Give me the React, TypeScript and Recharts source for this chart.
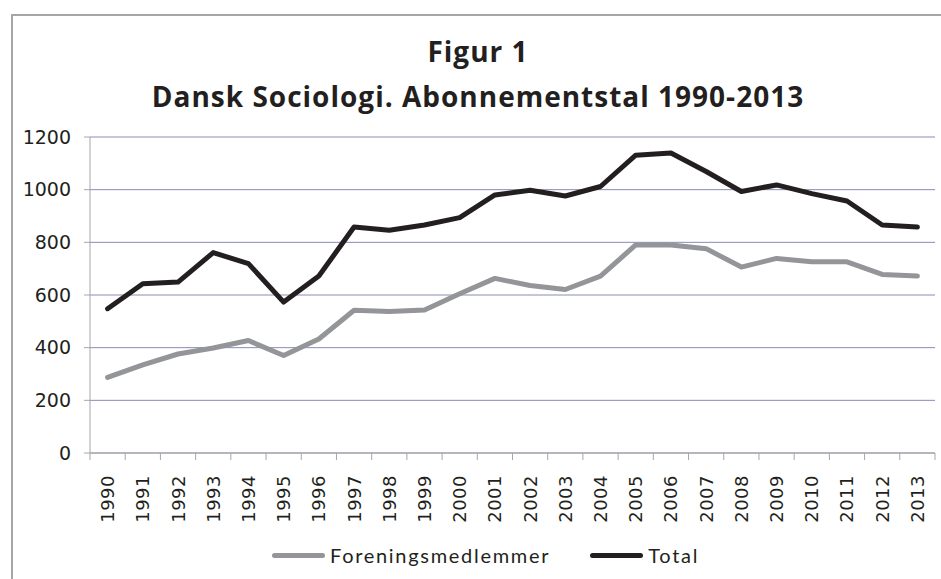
import React from "react";
import { LineChart, Line, XAxis, YAxis, CartesianGrid } from "recharts";

const years = [
  "1990", "1991", "1992", "1993", "1994", "1995", "1996", "1997",
  "1998", "1999", "2000", "2001", "2002", "2003", "2004", "2005",
  "2006", "2007", "2008", "2009", "2010", "2011", "2012", "2013",
];
const medlemmer = [
  287, 335, 376, 399, 427, 370, 433, 542, 537, 543, 605, 663,
  636, 621, 672, 790, 790, 776, 706, 739, 726, 726, 678, 672,
];
const total = [
  548, 643, 649, 761, 719, 573, 672, 858, 846, 866, 894, 980,
  998, 976, 1012, 1131, 1139, 1069, 993, 1018, 985, 957, 866, 858,
];
const yTicks = [0, 200, 400, 600, 800, 1000, 1200];
const seriesNames = ["Foreningsmedlemmer", "Total"];
const seriesColors = ["#939598", "#231f20"];

const W = 941;
const H = 579;
const PLOT_LEFT = 90;
const PLOT_RIGHT = 935;
const BAND = (PLOT_RIGHT - PLOT_LEFT) / years.length;

const data = years.map((year, i) => ({
  year,
  [seriesNames[0]]: medlemmer[i],
  [seriesNames[1]]: total[i],
}));

// Excel-style: tick marks sit between categories, labels rotated
const XTick = (props: any) => {
  const { x, y, payload, index } = props;
  const left = x - BAND / 2;
  const right = x + BAND / 2;
  return (
    <g>
      <line x1={left} x2={left} y1={y} y2={y + 7} stroke="#a6a6a6" strokeWidth={1} />
      {index === years.length - 1 && (
        <line x1={right} x2={right} y1={y} y2={y + 7} stroke="#a6a6a6" strokeWidth={1} />
      )}
      <text
        transform={`translate(${x},${y + 22}) rotate(-90)`}
        textAnchor="end"
        dy="0.36em"
        fontFamily="DejaVu Sans"
        fontSize={18}
        letterSpacing={0.5}
        fill="#231f20"
      >
        {payload.value}
      </text>
    </g>
  );
};

export default function App() {
  return (
    <div
      style={{
        position: "absolute",
        left: 0,
        top: 0,
        width: W,
        height: H,
        overflow: "hidden",
        background: "#fff",
      }}
    >
      <div
        style={{
          position: "absolute",
          left: 11,
          top: 14,
          width: W,
          height: H,
          borderTop: "2px solid #a6a6a6",
          borderLeft: "2px solid #a6a6a6",
        }}
      />
      <div
        style={{
          position: "absolute",
          left: 0,
          top: 29,
          width: 956,
          textAlign: "center",
          fontFamily: "Open Sans",
          fontWeight: 700,
          fontSize: 28,
          letterSpacing: 1,
          lineHeight: "45px",
          color: "#231f20",
        }}
      >
        <div>Figur 1</div>
        <div>Dansk Sociologi. Abonnementstal 1990-2013</div>
      </div>
      <div style={{ position: "absolute", left: 0, top: 0 }}>
        <LineChart
          width={W}
          height={H}
          data={data}
          margin={{ top: 137, right: W - PLOT_RIGHT, bottom: 36, left: 0 }}
        >
          <CartesianGrid vertical={false} stroke="#8a8ab6" strokeWidth={1} />
          <XAxis
            dataKey="year"
            scale="band"
            height={90}
            interval={0}
            tick={<XTick />}
            tickLine={false}
            tickSize={0}
            tickMargin={0}
            axisLine={{ stroke: "#a6a6a6", strokeWidth: 1 }}
          />
          <YAxis
            width={PLOT_LEFT}
            domain={[0, 1200]}
            ticks={yTicks}
            interval={0}
            tickSize={6}
            tickMargin={13}
            tickLine={{ stroke: "#a6a6a6" }}
            axisLine={{ stroke: "#a6a6a6", strokeWidth: 1 }}
            tick={{ fontFamily: "DejaVu Sans", fontSize: 19, fill: "#231f20" }}
          />
          {seriesNames.map((name, i) => (
            <Line
              key={name}
              type="linear"
              dataKey={name}
              stroke={seriesColors[i]}
              strokeWidth={5}
              strokeLinejoin="round"
              strokeLinecap="round"
              dot={false}
              isAnimationActive={false}
            />
          ))}
        </LineChart>
      </div>
      <div
        style={{
          position: "absolute",
          left: 272,
          top: 543,
          display: "flex",
          alignItems: "center",
          gap: 40,
          fontFamily: "Lato",
          fontSize: 20,
          letterSpacing: 1.7,
          color: "#231f20",
        }}
      >
        {seriesNames.map((name, i) => (
          <div key={name} style={{ display: "flex", alignItems: "center", gap: 5 }}>
            <div
              style={{
                width: 53,
                height: 5,
                borderRadius: 3,
                background: seriesColors[i],
              }}
            />
            <span>{name}</span>
          </div>
        ))}
      </div>
    </div>
  );
}
